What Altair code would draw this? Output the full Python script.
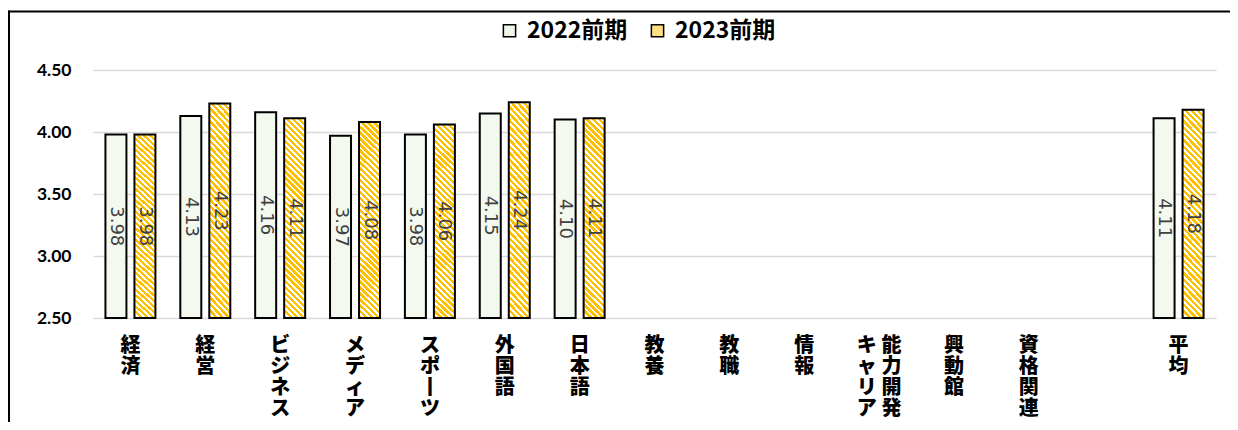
import math
import pandas as pd
import altair as alt

# ---- data ----
categories = ["経済", "経営", "ビジネス", "メディア", "スポーツ", "外国語", "日本語",
              "教養", "教職", "情報", "キャリア能力開発", "興動館", "資格関連", " ", "平均"]
series = ["2022前期", "2023前期"]
values_2022 = [3.98, 4.13, 4.16, 3.97, 3.98, 4.15, 4.10,
               None, None, None, None, None, None, None, 4.11]
values_2023 = [3.98, 4.23, 4.11, 4.08, 4.06, 4.24, 4.11,
               None, None, None, None, None, None, None, 4.18]
y_ticks = [2.5, 3.0, 3.5, 4.0, 4.5]

rows = []
for s, vals in zip(series, [values_2022, values_2023]):
    for c, v in zip(categories, vals):
        rows.append({"category": c, "series": s, "value": v})
df = pd.DataFrame(rows)

# ---- styles ----
PLOT_W, PLOT_H = 1123, 248
GREEN_FILL = "#f4f9f0"
GREEN_LEG = "#eef6e8"
ORANGE_LEG = "#ffdf80"


def stripe_gradient(period=4.3, frac=0.55, w=21.0, h=200.0,
                    c1="#FFC000", c2="#ffffff"):
    a = w / h
    k = (1 + a) / (1 + a * a)
    span = (w + h) / math.sqrt(2)
    n = span / period
    stops = []
    i = 0
    while i / n < 1:
        t0, t1, t2 = i / n, min((i + frac) / n, 1), min((i + 1) / n, 1)
        stops += [{"offset": round(t0, 5), "color": c1},
                  {"offset": round(t1, 5), "color": c1},
                  {"offset": round(t1, 5), "color": c2},
                  {"offset": round(t2, 5), "color": c2}]
        i += 1
    return {"gradient": "linear", "x1": 0, "y1": 1,
            "x2": k * a, "y2": 1 - k, "stops": stops}


ORANGE_GRAD = stripe_gradient()

label_expr = ("datum.label == 'キャリア能力開発' ? ['キ 能', 'ャ 力', 'リ 開', 'ア 発'] : "
              "split(replace(datum.label, 'ー', '丨'), '')")

x_enc = alt.X("category:N",
              scale=alt.Scale(domain=categories, paddingInner=0.22, paddingOuter=0.11),
              axis=alt.Axis(title=None, labelAngle=0, domain=False, ticks=False,
                            labelFont="Noto Sans CJK JP", labelFontWeight=900,
                            labelFontSize=20, labelLineHeight=21, labelColor="black",
                            labelBaseline="top", labelPadding=17, labelOverlap=False,
                            labelExpr=label_expr))
xoff_enc = alt.XOffset("series:N",
                       scale=alt.Scale(domain=series, paddingInner=0.276, paddingOuter=0.145))
y_scale = alt.Scale(domain=[2.5, 4.5], nice=False, zero=False)

base = alt.Chart(df)

bars = base.mark_bar(stroke="black", strokeWidth=2).encode(
    x=x_enc,
    xOffset=xoff_enc,
    y=alt.Y("value:Q", scale=y_scale,
            axis=alt.Axis(title=None, values=y_ticks, format=".2f", domain=False,
                          ticks=False, grid=True, gridColor="#d9d9d9", gridWidth=1.5,
                          labelFont="Lato", labelFontWeight="bold", labelFontSize=17.5,
                          labelColor="black", labelPadding=22)),
    y2=alt.datum(2.5),
    fill=alt.condition(alt.datum.series == series[0],
                       alt.value(GREEN_FILL), alt.value(ORANGE_GRAD)),
)

labels = base.transform_filter("isValid(datum.value)").transform_calculate(
    mid="(datum.value + 2.5) / 2"
).mark_text(angle=90, font="DejaVu Sans", fontSize=18, color="#404040",
            align="center", baseline="middle").encode(
    x=x_enc,
    xOffset=xoff_enc,
    y=alt.Y("mid:Q", scale=y_scale),
    text=alt.Text("value:Q", format=".2f"),
)

legend_layer = base.mark_square(opacity=0).encode(
    color=alt.Color("series:N",
                    scale=alt.Scale(domain=series, range=[GREEN_LEG, ORANGE_LEG]),
                    legend=alt.Legend(orient="none", legendX=405, legendY=-51,
                                      direction="horizontal", title=None,
                                      symbolType="square", symbolSize=150,
                                      symbolStrokeColor="black", symbolStrokeWidth=1.5,
                                      symbolOpacity=1,
                                      labelFont="Noto Sans CJK JP", labelFontWeight="bold",
                                      labelFontSize=23, labelColor="black",
                                      labelOffset=6, columnPadding=18))
)

frame_df = pd.DataFrame({"f": [0]})
frame_top = alt.Chart(frame_df).mark_rule(stroke="black", strokeWidth=2).encode(
    x=alt.value(-85), x2=alt.value(3000), y=alt.value(-58.5))
frame_left = alt.Chart(frame_df).mark_rule(stroke="black", strokeWidth=2).encode(
    x=alt.value(-84), y=alt.value(-59.5), y2=alt.value(3000))

chart = alt.layer(frame_top, frame_left, bars, labels, legend_layer).properties(
    width=PLOT_W, height=PLOT_H,
    autosize=alt.AutoSizeParams(type="none"),
    padding={"left": 85, "top": 62, "right": 14, "bottom": 104},
).configure_view(stroke="transparent")

chart.save("out.html", embed_options={"renderer": "svg", "actions": False})
